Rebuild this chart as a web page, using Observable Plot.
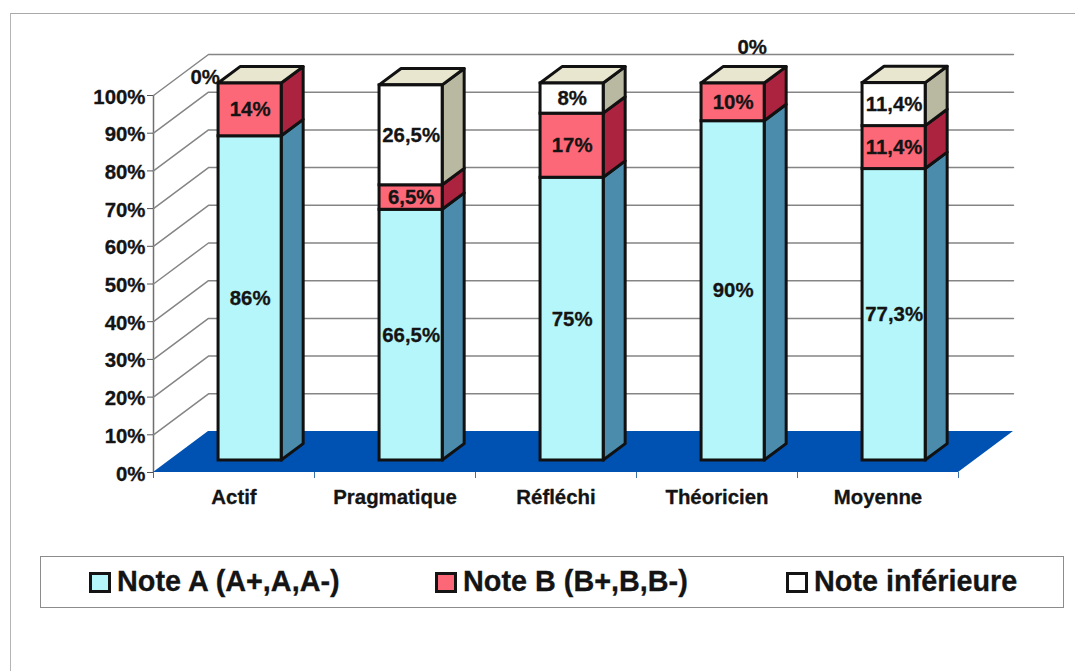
<!DOCTYPE html>
<html>
<head>
<meta charset="utf-8">
<script src="https://cdn.jsdelivr.net/npm/d3@7"></script>
<script src="https://cdn.jsdelivr.net/npm/@observablehq/plot@0.6"></script>
<style>
  html, body { margin: 0; padding: 0; background: #fff; }
  body { width: 1075px; height: 671px; overflow: hidden; position: relative; font-family: "Liberation Sans", Arial, sans-serif; }
  #frame { position: absolute; left: 10px; top: 13px; width: 1065px; height: 658px; border-left: 1.5px solid #b4b4b4; border-top: 1.5px solid #a8a8a8; box-sizing: border-box; }
  #chart { position: absolute; left: 0; top: 0; }
  #chart svg { display: block; overflow: visible; }
  #legend { position: absolute; left: 40px; top: 556px; width: 1024px; height: 52px; border: 1.5px solid #8c8c8c; box-sizing: border-box; background: #fff; }
  .key { position: absolute; top: 15px; width: 22px; height: 21px; box-sizing: border-box; border: 3px solid #141414; }
  .label { position: absolute; top: 5px; font-size: 28.8px; font-weight: bold; line-height: 38px; color: #141414; white-space: nowrap; -webkit-text-stroke: 0.3px #141414; }
</style>
</head>
<body>
<div id="frame"></div>
<div id="chart"></div>
<div id="legend"></div>
<script>
// ---- data ----
const categories = ["Actif", "Pragmatique", "Réfléchi", "Théoricien", "Moyenne"];
const noteA = [86, 66.5, 75, 90, 77.3];
const noteB = [14, 6.5, 17, 10, 11.4];
const noteInf = [0, 26.5, 8, 0, 11.4];
const seriesNames = ["Note A (A+,A,A-)", "Note B (B+,B,B-)", "Note inférieure"];
const labelsA = ["86%", "66,5%", "75%", "90%", "77,3%"];
const labelsB = ["14%", "6,5%", "17%", "10%", "11,4%"];
const labelsInf = ["0%", "26,5%", "8%", "0%", "11,4%"];
const yTicks = [0, 10, 20, 30, 40, 50, 60, 70, 80, 90, 100];

// ---- colours ----
const frontColors = ["#b4f6f9", "#fd6878", "#ffffff"];
const sideColors = ["#4b8bab", "#ac2340", "#b9b8a0"];
const topColor = "#e9e6cf";
const floorColor = "#0052b2";

// ---- oblique 3D projection, in data units ----
const DX = 0.3416, DY = 10.875;      // whole depth of the chart box
const T0 = 0.293, T1 = 0.693;        // front and back of every column, in depth
const HALF = 0.196;                  // half width of a column
const X = (x, t) => x + t * DX;
const Y = (v, t) => v + t * DY;

// A parallelogram face as an area: x, lower edge, upper edge.
function side(id, fill, xr, lo, hi) {
  return [
    {id, fill, x: X(xr, T0), y1: Y(lo, T0), y2: Y(hi, T0)},
    {id, fill, x: X(xr, T1), y1: Y(lo, T1), y2: Y(hi, T1)}
  ];
}
function lid(id, fill, xl, xr, v, t0, t1) {
  return [
    {id, fill, x: X(xl, t0), y1: Y(v, t0), y2: Y(v, t0)},
    {id, fill, x: X(xl, t1), y1: Y(v, t0), y2: Y(v, t1)},
    {id, fill, x: X(xr, t0), y1: Y(v, t0), y2: Y(v, t1)},
    {id, fill, x: X(xr, t1), y1: Y(v, t1), y2: Y(v, t1)}
  ];
}

const sides = [], fronts = [], tops = [], texts = [];
categories.forEach((c, i) => {
  const xl = i + 0.5 - HALF, xr = i + 0.5 + HALF;
  const series = [noteA[i], noteB[i], noteInf[i]];
  const labels = [labelsA[i], labelsB[i], labelsInf[i]];
  let lo = 0;
  series.forEach((v, s) => {
    const hi = lo + v;
    if (v > 0) {
      sides.push(...side(`${i}-${s}`, sideColors[s], xr, lo, hi));
      fronts.push({x1: X(xl, T0), x2: X(xr, T0), y1: Y(lo, T0), y2: Y(hi, T0), fill: frontColors[s]});
      texts.push({x: X(i + 0.5, T0), y: Y((lo + hi) / 2, T0), text: labels[s]});
    }
    lo = hi;
  });
  tops.push(...lid(`top-${i}`, topColor, xl, xr, lo, T0, T1));
});

// Empty series: their "0%" labels sit beside the column tops.
const zeroLabels = categories
  .map((c, i) => ({i, text: labelsInf[i], x: X(i + 0.5, T0), y: Y(noteA[i] + noteB[i], T0)}))
  .filter(d => noteInf[d.i] === 0);

const floor = lid("floor", floorColor, 0, 5, 0, 0, 1);

const gridLines = yTicks.slice(1).flatMap(v => [
  {v, x: 0, y: v},
  {v, x: DX, y: v + DY},
  {v, x: 5 + DX, y: v + DY}
]);

const bold = {fontSize: 20.4, fontWeight: "bold", fill: "#141414"};
const heavy = {...bold, stroke: "#141414", strokeWidth: 0.3};

const chart = Plot.plot({
  width: 1075,
  height: 540,
  marginLeft: 153,
  marginRight: 117,
  marginTop: 95,
  marginBottom: 68,
  x: {type: "linear", domain: [0, 5]},
  y: {domain: [0, 100]},
  color: {type: "identity"},
  style: {fontFamily: "'Liberation Sans', Arial, sans-serif", background: "transparent", overflow: "visible"},
  marks: [
    Plot.ruleX([0], {y1: 0, y2: 100, stroke: "#6e6e6e", strokeWidth: 1.5}),
    Plot.line(gridLines, {x: "x", y: "y", z: "v", stroke: "#858585", strokeWidth: 1.5, curve: "linear"}),
    Plot.areaY(floor, {x: "x", y1: "y1", y2: "y2", z: "id", fill: "fill", curve: "linear"}),
    Plot.axisY({ticks: yTicks, tickFormat: () => "", tickSize: 6, label: null, stroke: "#555"}),
    Plot.axisY({ticks: yTicks, tickFormat: d => d + "%", tickSize: 0, tickPadding: 8, dy: 1.5, label: null, ...bold, textStroke: "#141414", textStrokeWidth: 0.3}),
    Plot.axisX({ticks: [0, 1, 2, 3, 4, 5], tickFormat: () => "", tickSize: 6, label: null, stroke: "#3c6ea8"}),
    Plot.axisX({ticks: categories.map((c, i) => i + 0.5), tickFormat: d => categories[d - 0.5], tickSize: 0, tickPadding: 17, label: null, ...bold, textStroke: "#141414", textStrokeWidth: 0.3}),
    Plot.areaY(sides, {x: "x", y1: "y1", y2: "y2", z: "id", fill: "fill", stroke: "#111", strokeWidth: 3, strokeLinejoin: "round", curve: "linear"}),
    Plot.areaY(tops, {x: "x", y1: "y1", y2: "y2", z: "id", fill: "fill", stroke: "#111", strokeWidth: 3, strokeLinejoin: "round", curve: "linear"}),
    Plot.rect(fronts, {x1: "x1", x2: "x2", y1: "y1", y2: "y2", fill: "fill", stroke: "#111", strokeWidth: 3}),
    Plot.text(texts, {x: "x", y: "y", text: "text", ...heavy}),
    Plot.text(zeroLabels.filter(d => d.i === 0), {x: "x", y: "y", text: "text", ...heavy, dx: -45, dy: -6}),
    Plot.text(zeroLabels.filter(d => d.i === 3), {x: "x", y: "y", text: "text", ...heavy, dx: 19, dy: -36})
  ]
});
document.getElementById("chart").append(chart);

// ---- legend ----
const legend = document.getElementById("legend");
const keyLeft = [48, 394, 745];
const labelLeft = [76, 422, 773];
seriesNames.forEach((name, s) => {
  const key = document.createElement("div");
  key.className = "key";
  key.style.left = keyLeft[s] + "px";
  key.style.background = frontColors[s];
  legend.append(key);
  const label = document.createElement("div");
  label.className = "label";
  label.style.left = labelLeft[s] + "px";
  label.textContent = name;
  legend.append(label);
});
</script>
</body>
</html>
